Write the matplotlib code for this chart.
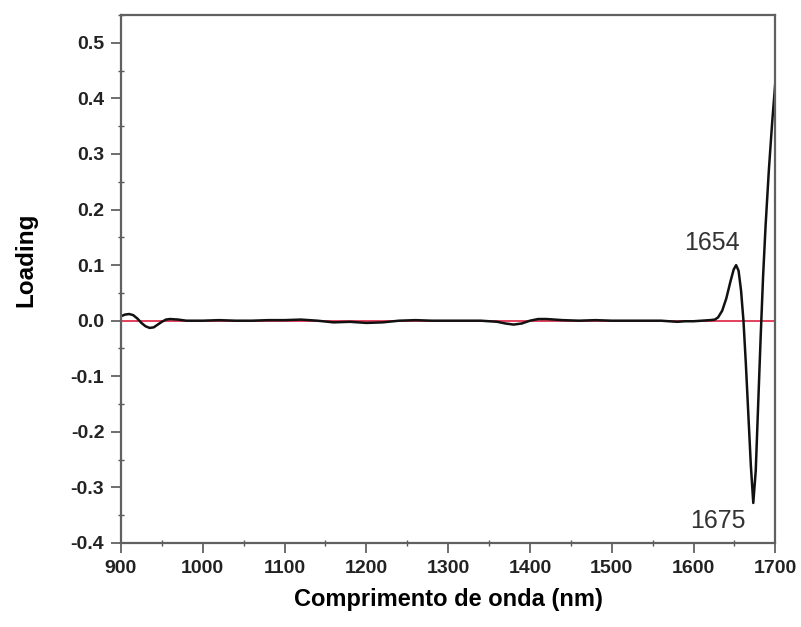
import matplotlib
matplotlib.use("Agg")
import matplotlib.pyplot as plt
from matplotlib.ticker import MultipleLocator

wavelength = [900, 905, 910, 915, 920, 925, 930, 935, 940, 945, 950, 955, 960, 970, 980,
              1000, 1020, 1040, 1060, 1080, 1100, 1120, 1140, 1160, 1180, 1200, 1220, 1240,
              1260, 1280, 1300, 1320, 1340, 1360, 1370, 1380, 1390, 1400, 1410, 1420, 1440,
              1460, 1480, 1500, 1520, 1540, 1560, 1580, 1590, 1600, 1610, 1620, 1626, 1630,
              1635, 1640, 1645, 1649, 1652, 1655, 1658, 1661, 1664, 1667, 1670, 1673, 1676,
              1679, 1682, 1685, 1688, 1692, 1696, 1700]
loading = [0.008, 0.011, 0.012, 0.010, 0.004, -0.004, -0.010, -0.013, -0.012, -0.007, -0.002,
           0.002, 0.003, 0.002, 0.000,
           0.000, 0.001, 0.000, 0.000, 0.001, 0.001, 0.002, 0.000, -0.003, -0.002, -0.004,
           -0.003, 0.000,
           0.001, 0.000, 0.000, 0.000, 0.000, -0.002, -0.005, -0.007, -0.005, 0.000, 0.003,
           0.003, 0.001,
           0.000, 0.001, 0.000, 0.000, 0.000, 0.000, -0.002, -0.001, -0.001, 0.000, 0.001,
           0.002, 0.006,
           0.018, 0.040, 0.070, 0.092, 0.100, 0.090, 0.055, 0.000, -0.080, -0.170, -0.260,
           -0.328, -0.270,
           -0.150, -0.030, 0.080, 0.170, 0.270, 0.355, 0.430]

peak_labels = ["1654", "1675"]
peak_x = [1654, 1675]
peak_y = [0.100, -0.328]

plt.rcParams['font.family'] = ['Liberation Sans', 'DejaVu Sans']

fig = plt.figure(figsize=(8.01, 6.27), dpi=100)
ax = fig.add_axes([0.151, 0.134, 0.817, 0.842])

ax.axhline(0, color='#e0304f', lw=1.3, zorder=1)
ax.plot(wavelength, loading, color='#111111', lw=1.8, zorder=2)

ax.text(peak_x[0] - 31, peak_y[0] + 0.018, peak_labels[0], ha='center', va='bottom',
        fontsize=18, color='#333333')
ax.text(peak_x[1] - 45, peak_y[1] - 0.01, peak_labels[1], ha='center', va='top',
        fontsize=18, color='#333333')

ax.set_xlim(900, 1700)
ax.set_ylim(-0.4, 0.55)
ax.xaxis.set_major_locator(MultipleLocator(100))
ax.xaxis.set_minor_locator(MultipleLocator(50))
ax.set_yticks([-0.4, -0.3, -0.2, -0.1, 0.0, 0.1, 0.2, 0.3, 0.4, 0.5])
ax.set_yticklabels(['-0.4', '-0.3', '-0.2', '-0.1', '0.0', '0.1', '0.2', '0.3', '0.4', '0.5'])
ax.yaxis.set_minor_locator(MultipleLocator(0.05))

ax.tick_params(which='major', direction='out', length=7, width=1.2, pad=5,
               labelsize=14, color='#555555', labelcolor='#222222')
ax.tick_params(which='minor', direction='inout', length=5, width=1.0, color='#555555')
for lab in ax.get_xticklabels() + ax.get_yticklabels():
    lab.set_fontweight('bold')
for s in ax.spines.values():
    s.set_color('#606060')
    s.set_linewidth(1.6)

ax.set_xlabel('Comprimento de onda (nm)', fontsize=17, fontweight='bold', labelpad=8)
ax.set_ylabel('Loading', fontsize=17.5, fontweight='bold')
ax.yaxis.set_label_coords(-0.128, 0.536)

fig.savefig('out.png', dpi=100)
